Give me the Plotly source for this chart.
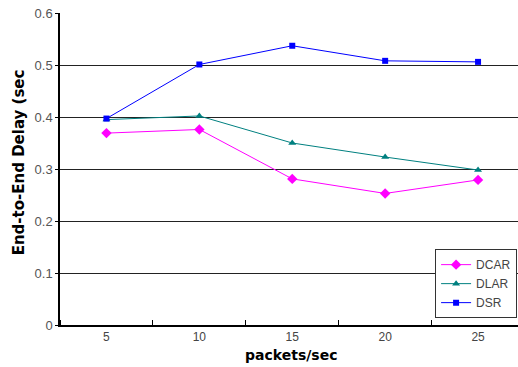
import plotly.graph_objects as go

rates = [5, 10, 15, 20, 25]
x_labels = ["5", "10", "15", "20", "25"]
dcar = [0.369, 0.376, 0.281, 0.253, 0.279]
dlar = [0.395, 0.402, 0.350, 0.323, 0.298]
dsr = [0.397, 0.501, 0.537, 0.508, 0.506]
y_ticks = [0, 0.1, 0.2, 0.3, 0.4, 0.5, 0.6]
y_tick_labels = ["0", "0.1", "0.2", "0.3", "0.4", "0.5", "0.6"]

fig = go.Figure()
fig.add_trace(go.Scatter(x=rates, y=dcar, name="DCAR", mode="lines+markers",
                         line=dict(color="#FF00FF", width=1),
                         marker=dict(symbol="diamond", size=8, color="#FF00FF")))
fig.add_trace(go.Scatter(x=rates, y=dlar, name="DLAR", mode="lines+markers",
                         line=dict(color="#008080", width=1),
                         marker=dict(symbol="triangle-up", size=7, color="#008080")))
fig.add_trace(go.Scatter(x=rates, y=dsr, name="DSR", mode="lines+markers",
                         line=dict(color="#0000FF", width=1),
                         marker=dict(symbol="square", size=6, color="#0000FF")))

fig.update_layout(
    width=518, height=367,
    margin=dict(l=60, r=0, t=13, b=42, autoexpand=False),
    paper_bgcolor="white", plot_bgcolor="white",
    font=dict(family="Liberation Sans, Arial, sans-serif", size=12, color="#444"),
    xaxis=dict(range=[2.5, 27.15], tickmode="array", tickvals=rates, ticktext=x_labels,
               ticks="", showgrid=False, showline=True, linecolor="black", linewidth=1.5,
               zeroline=False, tickfont=dict(size=12, color="#444"),
               minor=dict(tick0=2.5, dtick=5, ticks="inside", ticklen=5, tickcolor="black",
                          showgrid=False)),
    yaxis=dict(range=[0, 0.6], tickmode="array", tickvals=y_ticks, ticktext=y_tick_labels,
               ticks="outside", ticklen=3, tickcolor="black", ticklabeloverflow="allow",
               showgrid=True, gridcolor="#222", gridwidth=1,
               showline=True, linecolor="black", linewidth=1.5, zeroline=False,
               tickfont=dict(size=13, color="#555")),
    legend=dict(x=0.998, y=0.022, xanchor="right", yanchor="bottom",
                bgcolor="white", bordercolor="#333", borderwidth=1,
                font=dict(size=12, color="#444"), tracegroupgap=0, itemwidth=30),
    showlegend=True,
)
fig.add_annotation(text="End-to-End Delay (sec", xref="paper", yref="paper",
                   x=-0.0905, y=0.52, xanchor="center", yanchor="middle", textangle=-90,
                   showarrow=False, font=dict(size=15, color="black",
                   family="DejaVu Sans, sans-serif", weight="bold"))
fig.add_annotation(text="packets/sec", xref="paper", yref="paper",
                   x=0.505, y=-0.095, xanchor="center", yanchor="middle",
                   showarrow=False, font=dict(size=14, color="black",
                   family="DejaVu Sans, sans-serif", weight="bold"))

fig.write_html("out.html", config={"displayModeBar": False},
               post_script="document.body.style.margin='0';")
